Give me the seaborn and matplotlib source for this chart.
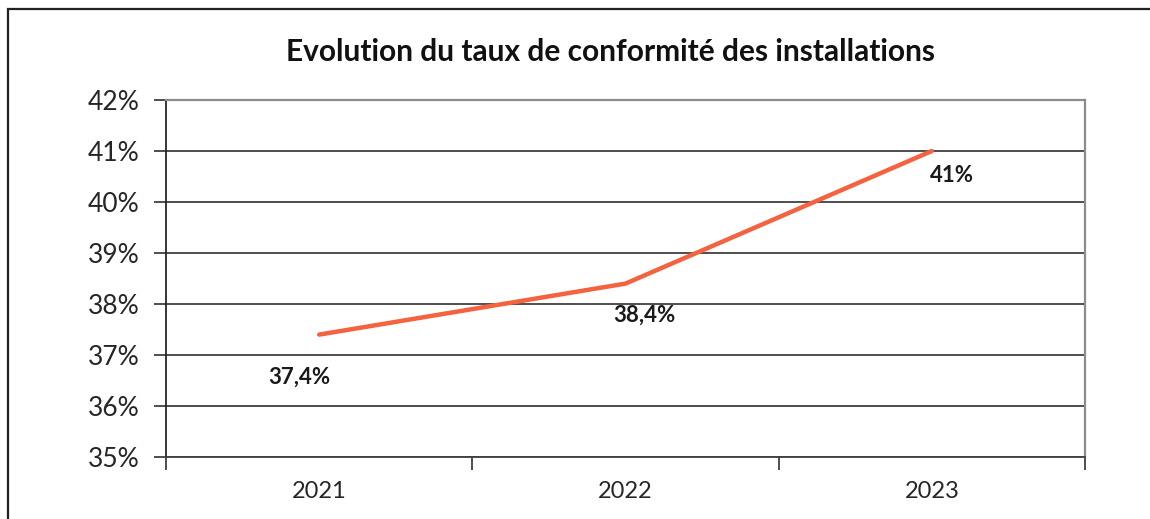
import matplotlib
matplotlib.use("Agg")
import matplotlib.pyplot as plt
from matplotlib.patches import Rectangle
from matplotlib.ticker import FixedLocator, PercentFormatter
import seaborn as sns
import pandas as pd

years = ["2021", "2022", "2023"]
taux = [37.4, 38.4, 41.0]
etiquettes = ["37,4%", "38,4%", "41%"]
titre = "Evolution du taux de conformité des installations"

sns.set_theme(style="white")
plt.rcParams["font.family"] = ["Lato", "DejaVu Sans"]

df = pd.DataFrame({"annee": years, "taux": taux})

fig = plt.figure(figsize=(11.5, 5.19), dpi=100)
ax = fig.add_axes([166 / 1150, 62 / 519, 919 / 1150, 357 / 519])

sns.lineplot(data=df, x="annee", y="taux", ax=ax, color="#F4623F",
             linewidth=3.2, solid_capstyle="round", zorder=3)

ax.set_xlim(-0.5, 2.5)
ax.set_ylim(35, 42)
ax.set_yticks(range(35, 43))
ax.yaxis.set_major_formatter(PercentFormatter(decimals=0))
ax.grid(axis="y", color="#404040", linewidth=1.3)
ax.set_axisbelow(True)

# category boundaries carry the tick marks, category centres carry the labels
ax.xaxis.set_major_locator(FixedLocator([-0.5, 0.5, 1.5, 2.5]))
ax.xaxis.set_minor_locator(FixedLocator([0, 1, 2]))
ax.set_xticklabels([], minor=False)
ax.set_xticklabels(years, minor=True)
ax.tick_params(axis="x", which="major", direction="out", length=9, width=1.3,
               color="#404040", bottom=True)
ax.tick_params(axis="x", which="minor", length=0, pad=17, labelsize=17,
               labelcolor="#262626")
ax.tick_params(axis="y", direction="out", length=9, width=1.3, color="#404040",
               left=True, labelsize=19, labelcolor="#262626", pad=10)
ax.set_xlabel("")
ax.set_ylabel("")

for side in ["top", "right"]:
    ax.spines[side].set_color("#8c8c8c")
    ax.spines[side].set_linewidth(1.6)
ax.spines["left"].set_color("#262626")
ax.spines["left"].set_linewidth(1.3)
ax.spines["bottom"].set_color("#404040")
ax.spines["bottom"].set_linewidth(1.3)

offsets = [(-20, -43), (19, -32), (20, -24)]
for i, (v, lab) in enumerate(zip(taux, etiquettes)):
    dx, dy = offsets[i]
    ax.annotate(lab, (i, v), xytext=(dx * 0.72, dy * 0.72),
                textcoords="offset points", ha="center", va="center",
                fontsize=16, fontweight="bold", color="#1a1a1a")

fig.text(610 / 1150, (519 - 52) / 519, titre,
         ha="center", va="center", fontsize=21.5, fontweight="bold", color="#111111")

# outer chart frame
fig.patches.append(Rectangle((8 / 1150, -0.2), 1.2, (519 - 9) / 519 + 0.2,
                             transform=fig.transFigure, fill=False,
                             edgecolor="#222222", linewidth=1.6))

fig.savefig("out.png", dpi=100, facecolor="white")
